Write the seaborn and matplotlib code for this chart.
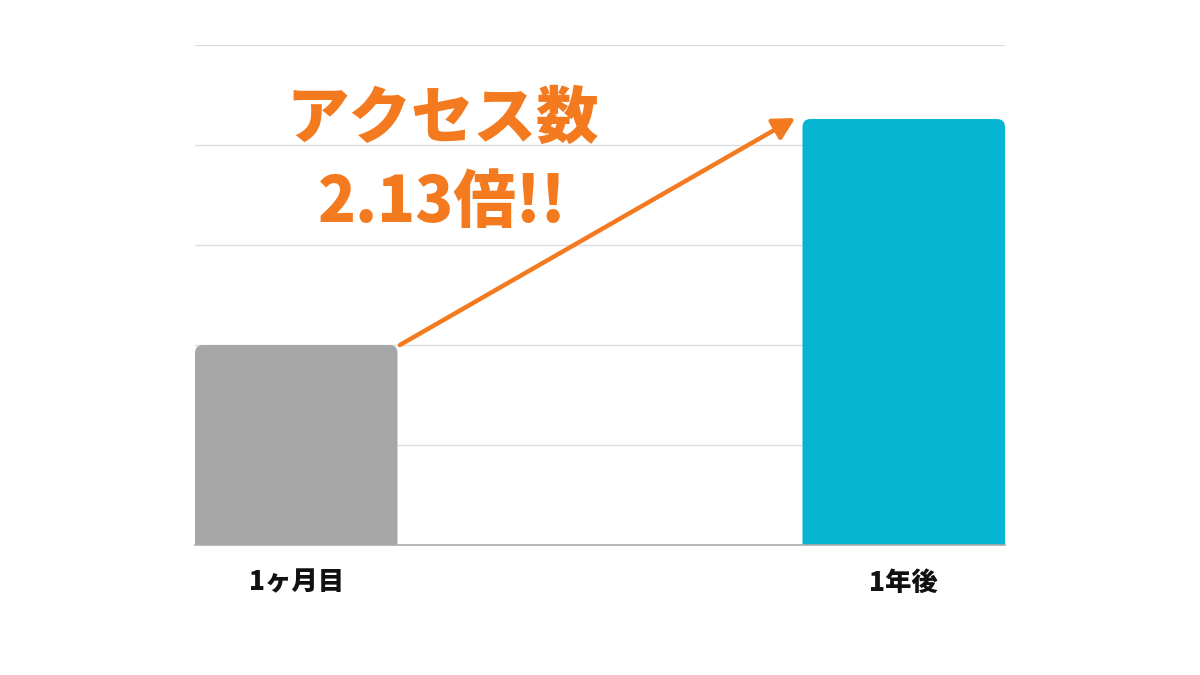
import matplotlib
matplotlib.use("Agg")
import matplotlib.pyplot as plt
from matplotlib.patches import FancyBboxPatch
import seaborn as sns
import pandas as pd

# データ
categories = ["1ヶ月目", "1年後"]
access = [100, 213]
bar_colors = ["#A6A6A6", "#06B5D2"]
label_text = "アクセス数\n2.13倍!!"

sns.set_style("white")
plt.rcParams['font.family'] = ['Noto Sans CJK JP', 'DejaVu Sans']

df = pd.DataFrame({"cat": categories, "val": access})

fig = plt.figure(figsize=(12, 6.75), dpi=100)
ax = fig.add_axes([0.1625, 0.1926, 0.675, 0.7407])

bw = 1 / 3
sns.barplot(data=df, x="cat", y="val", hue="cat", palette=bar_colors,
            width=bw, legend=False, ax=ax, saturation=1)

ax.set_xlim(-bw / 2, 1 + bw / 2)
ax.set_ylim(0, 250)

# 角丸バーに置き換え
x_px = (1 + bw) / 810
y_px = 250 / 500
for p in list(ax.patches):
    x, w, h = p.get_x(), p.get_width(), p.get_height()
    fc = p.get_facecolor()
    p.remove()
    rb = FancyBboxPatch((x, -20), w, h + 20,
                        boxstyle=f"round,pad=0,rounding_size={8 * x_px}",
                        mutation_aspect=y_px / x_px,
                        facecolor=fc, edgecolor="none", zorder=2)
    ax.add_patch(rb)

ax.set_yticks([50, 100, 150, 200, 250])
ax.yaxis.grid(True, color="#DDDDDD", linewidth=1)
ax.set_axisbelow(True)
for s in ["top", "right", "left"]:
    ax.spines[s].set_visible(False)
ax.spines["bottom"].set_color("#AAAAAA")
ax.spines["bottom"].set_linewidth(1.2)
ax.tick_params(axis="y", left=False, labelleft=False)
ax.tick_params(axis="x", bottom=False, pad=13)
for t in ax.get_xticklabels():
    t.set_fontsize(19)
    t.set_fontweight("black")
    t.set_color("#111111")
ax.set_xlabel("")
ax.set_ylabel("")

orange = "#F47A1F"
ax.annotate("", xy=(1 - bw / 2 - 0.012, access[1] + 0.5),
            xytext=(0 + bw / 2 + 0.004, access[0]),
            arrowprops=dict(arrowstyle="-|>,head_length=1.3,head_width=0.7",
                            color=orange, lw=3.2, shrinkA=0, shrinkB=0),
            zorder=3)

ax.text(0.241, 192, label_text, color=orange, fontsize=45, fontweight="black",
        ha="center", va="center", linespacing=1.4, zorder=4)

fig.savefig("out.png", dpi=100, facecolor="white")
